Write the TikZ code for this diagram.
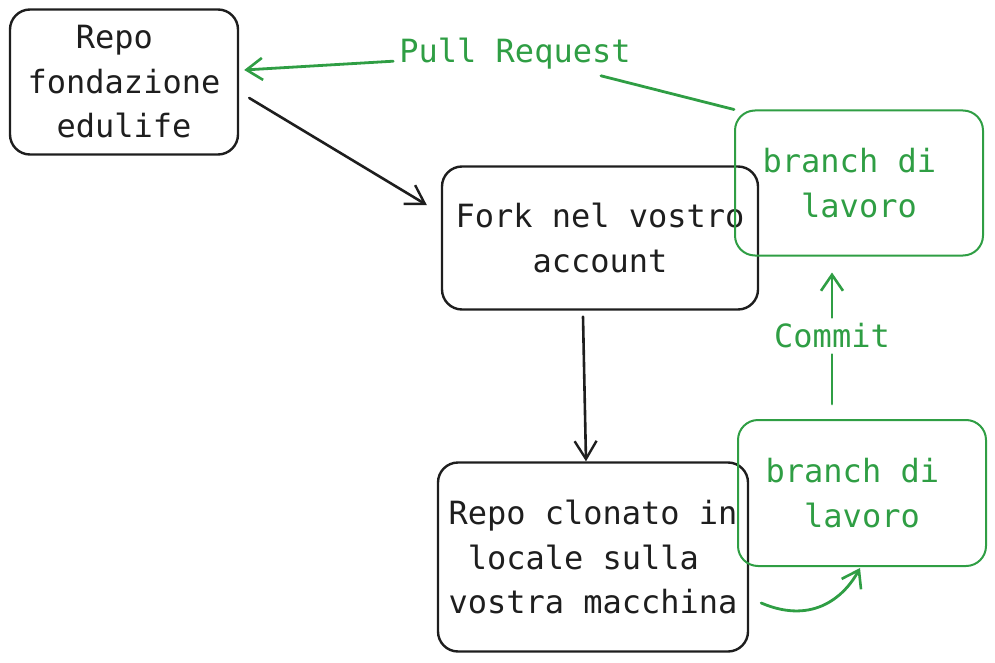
\documentclass[tikz,border=0pt]{standalone}
\usepackage{fontspec}
\setmainfont{DejaVu Sans Mono}
\usetikzlibrary{arrows.meta}
\definecolor{inkblack}{HTML}{1E1E1E}
\definecolor{inkgreen}{HTML}{2F9E44}
\newcommand{\trail}{\hphantom{x}}
\tikzset{
  txt/.style={font=\fontsize{32}{44.5}\selectfont, align=center},
  blackbox/.style={txt, draw=inkblack, text=inkblack, line width=2.4pt, rounded corners=20pt,
    inner sep=0pt},
  greenbox/.style={txt, draw=inkgreen, text=inkgreen, line width=2pt, rounded corners=20pt,
    inner sep=0pt},
  blackarrow/.style={draw=inkblack, line width=2.6pt, line cap=round,
    -{Straight Barb[length=18pt,width=22pt,line width=2.4pt]}},
  greenline/.style={draw=inkgreen, line width=2.8pt, line cap=round},
  greenarrow/.style={greenline, -{Straight Barb[length=16pt,width=22pt,line width=2.6pt]}},
  greenlabel/.style={txt, text=inkgreen, inner sep=6pt},
}
\begin{document}
\begin{tikzpicture}[x=1pt,y=-1pt]
\useasboundingbox (0,0) rectangle (995,663);
% boxes
\node[blackbox, minimum width=228pt, minimum height=145pt] (repo) at (124,82) {Repo\trail\\fondazione\\edulife};
\node[blackbox, minimum width=316pt, minimum height=143pt] (fork) at (600,238) {Fork nel vostro\\account};
\node[blackbox, minimum width=310pt, minimum height=189pt] (clone) at (593,557) {Repo clonato in\\locale sulla\trail\\vostra macchina};
\node[greenbox, minimum width=248pt, minimum height=145pt] (gt) at (859,183) {branch di\trail\\lavoro};
\node[greenbox, minimum width=248pt, minimum height=146pt] (gb) at (862,493) {branch di\trail\\lavoro};
% labels
\node[greenlabel] (pr) at (515,54) {Pull Request};
\node[greenlabel] (cm) at (832,336) {Commit};
% black connectors
\draw[blackarrow] ([shift={(10,16)}]repo.east) -- ([shift={(-14,-33)}]fork.west);
\draw[blackarrow] ([shift={(-17,6)}]fork.south) -- ([shift={(-7,0)}]clone.north);
% green connectors
\draw[greenline] (gt.north west) -- (pr);
\draw[greenarrow] (pr) -- ([shift={(5,-12)}]repo.east);
\draw[greenline] ([shift={(-30,-15)}]gb.north) -- (cm);
\draw[greenarrow] (cm) -- ([shift={(-27,16)}]gt.south);
\draw[greenarrow] ([shift={(12,46)}]clone.east) .. controls (815,626) and (846,594) .. ([shift={(-2,1)}]gb.south);
\end{tikzpicture}
\end{document}
